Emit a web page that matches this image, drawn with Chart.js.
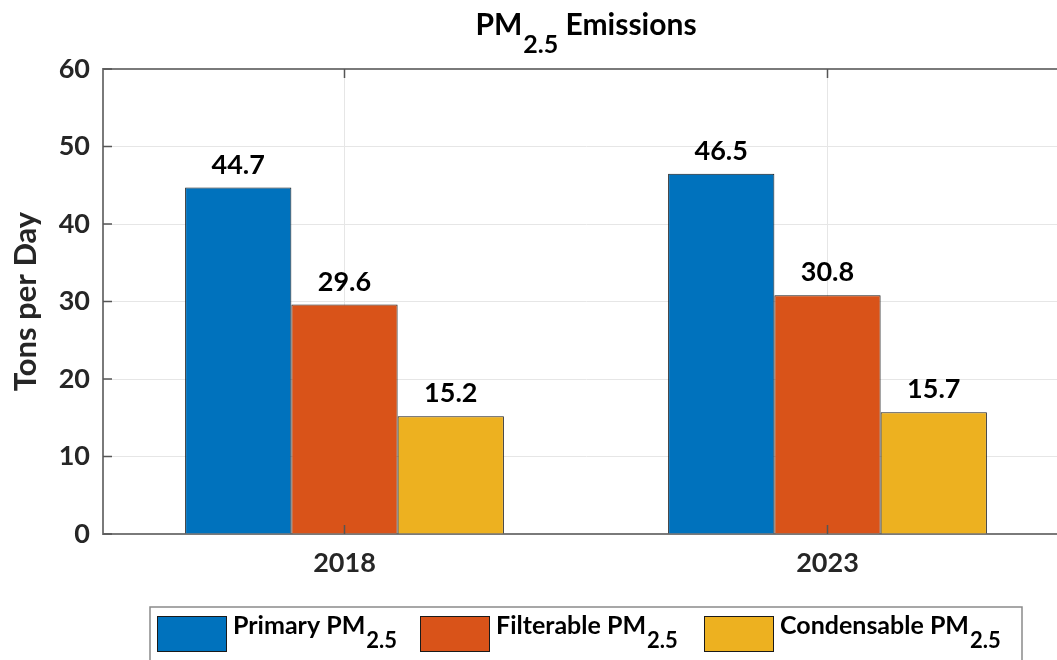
<!DOCTYPE html>
<html>
<head>
<meta charset="utf-8">
<script src="https://cdn.jsdelivr.net/npm/chart.js@4.4.1/dist/chart.umd.min.js"></script>
<style>
  html, body { margin: 0; padding: 0; background: #fff; overflow: hidden; }
  #wrap { position: absolute; left: 0; top: 0; }
</style>
</head>
<body>
<div id="wrap"><canvas id="pmChart" width="1080" height="690"></canvas></div>
<script>
// dados do grafico
const years = ['2018', '2023'];
const primary = [44.7, 46.5];
const filterable = [29.6, 30.8];
const condensable = [15.2, 15.7];
const seriesNames = ['Primary PM_2.5', 'Filterable PM_2.5', 'Condensable PM_2.5'];
const seriesColors = ['#0072BD', '#D95319', '#EDB120'];
const yMin = 0, yMax = 60, yStep = 10;

const FONT = 'Lato, "Open Sans", sans-serif';

// desenha texto com subscrito (parte depois do "_")
function drawSubText(ctx, text, x, y, size, subSize, subDrop) {
  const parts = text.split('_');
  ctx.font = 'bold ' + size + 'px ' + FONT;
  ctx.fillText(parts[0], x, y);
  let w = ctx.measureText(parts[0]).width;
  if (parts[1]) {
    ctx.font = 'bold ' + subSize + 'px ' + FONT;
    ctx.fillText(parts[1], x + w + 1, y + subDrop);
    w += ctx.measureText(parts[1]).width + 1;
  }
  return w;
}

// titulo, bordas, ticks internos, rotulos e legenda
const extrasPlugin = {
  id: 'extras',
  afterDraw(chart) {
    const ctx = chart.ctx;
    const area = chart.chartArea;
    const yScale = chart.scales.y;
    const xScale = chart.scales.x;
    ctx.save();

    // borda de cima e da direita
    ctx.strokeStyle = '#7a7a7a';
    ctx.lineWidth = 2;
    ctx.beginPath();
    ctx.moveTo(area.left, area.top);
    ctx.lineTo(area.right, area.top);
    ctx.lineTo(area.right, area.bottom);
    ctx.stroke();

    // ticks para dentro
    ctx.lineWidth = 1.5;
    ctx.strokeStyle = '#555';
    yScale.ticks.forEach(t => {
      const py = yScale.getPixelForValue(t.value);
      ctx.beginPath();
      ctx.moveTo(area.left, py);
      ctx.lineTo(area.left + 9, py);
      ctx.moveTo(area.right, py);
      ctx.lineTo(area.right - 9, py);
      ctx.stroke();
    });
    xScale.ticks.forEach((t, i) => {
      const px = xScale.getPixelForTick(i);
      ctx.beginPath();
      ctx.moveTo(px, area.bottom);
      ctx.lineTo(px, area.bottom - 9);
      ctx.moveTo(px, area.top);
      ctx.lineTo(px, area.top + 9);
      ctx.stroke();
    });

    // valores acima das barras
    ctx.fillStyle = '#000';
    ctx.textAlign = 'center';
    ctx.textBaseline = 'alphabetic';
    ctx.font = 'bold 27px ' + FONT;
    chart.data.datasets.forEach((ds, di) => {
      chart.getDatasetMeta(di).data.forEach((bar, i) => {
        ctx.fillText(ds.data[i].toFixed(1), bar.x, bar.y - 14);
      });
    });

    // titulo PM2.5 Emissions
    ctx.textAlign = 'left';
    const cx = (area.left + area.right) / 2;
    ctx.font = 'bold 30px ' + FONT;
    const wPM = ctx.measureText('PM').width;
    const wRest = ctx.measureText(' Emissions').width;
    ctx.font = 'bold 25px ' + FONT;
    const wSub = ctx.measureText('2.5').width + 1;
    let tx = cx - (wPM + wSub + wRest) / 2;
    const ty = area.top - 34;
    tx += drawSubText(ctx, 'PM_2.5', tx, ty, 30, 25, 18);
    ctx.font = 'bold 30px ' + FONT;
    ctx.fillText(' Emissions', tx, ty);

    // legenda
    const boxW = 872;
    const boxL = cx - boxW / 2;
    const boxT = area.bottom + 73;
    ctx.strokeStyle = '#8a8a8a';
    ctx.lineWidth = 1.5;
    ctx.strokeRect(boxL, boxT, boxW, 80);
    const itemOffsets = [7, 270, 554];
    seriesNames.forEach((name, i) => {
      const sx = boxL + itemOffsets[i];
      ctx.fillStyle = seriesColors[i];
      ctx.fillRect(sx, boxT + 9, 70, 36);
      ctx.strokeStyle = '#1a1a1a';
      ctx.lineWidth = 1;
      ctx.strokeRect(sx + 0.5, boxT + 9.5, 69, 35);
      ctx.fillStyle = '#000';
      drawSubText(ctx, name, sx + 76, boxT + 27, 25, 22, 14);
    });

    ctx.restore();
  }
};

const datasets = [primary, filterable, condensable].map((vals, i) => ({
  label: seriesNames[i],
  data: vals,
  backgroundColor: seriesColors[i],
  borderColor: '#1a1a1a',
  borderWidth: 1,
  categoryPercentage: 0.66,
  barPercentage: 1.0
}));

new Chart(document.getElementById('pmChart').getContext('2d'), {
  type: 'bar',
  data: { labels: years, datasets: datasets },
  options: {
    responsive: false,
    animation: false,
    layout: { padding: { left: 0, top: 69, right: 11, bottom: 0 } },
    plugins: {
      legend: { display: false },
      title: { display: false },
      tooltip: { enabled: false }
    },
    scales: {
      x: {
        offset: true,
        grid: { offset: false, color: '#e6e6e6', lineWidth: 1, drawTicks: false },
        border: { display: true, color: '#7a7a7a', width: 2 },
        ticks: { color: '#262626', padding: 13, font: { family: FONT, size: 27, weight: 'bold' } },
        afterFit(scale) { scale.height = 156; }
      },
      y: {
        min: yMin,
        max: yMax,
        grid: { color: '#e6e6e6', lineWidth: 1, drawTicks: false },
        border: { display: true, color: '#7a7a7a', width: 2 },
        ticks: { stepSize: yStep, color: '#262626', padding: 13, font: { family: FONT, size: 27, weight: 'bold' } },
        title: {
          display: true,
          text: 'Tons per Day',
          color: '#262626',
          padding: { top: 7, bottom: 4 },
          font: { family: FONT, size: 31, weight: 'bold' }
        },
        afterFit(scale) { scale.width = 103; }
      }
    }
  },
  plugins: [extrasPlugin]
});
</script>
</body>
</html>
